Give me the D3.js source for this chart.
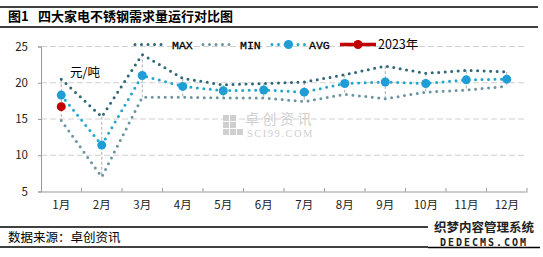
<!DOCTYPE html>
<html><head><meta charset="utf-8">
<script src="https://cdn.jsdelivr.net/npm/d3@7/dist/d3.min.js"></script>
<style>body{margin:0;background:#fff}svg{display:block}</style>
</head><body><svg id="c" width="543" height="257"></svg>
<script>
const months = ["1月","2月","3月","4月","5月","6月","7月","8月","9月","10月","11月","12月"];
const maxVals = [20.5,15.3,23.9,20.6,19.7,19.9,20.1,21.1,22.3,21.3,21.7,21.5];
const minVals = [14.8,7.0,18.0,18.0,17.9,17.9,17.4,18.4,17.8,18.7,19.0,19.5];
const avgVals = [18.3,11.4,21.0,19.5,18.9,19.0,18.7,19.9,20.1,19.9,20.4,20.5];
const y2023 = [16.7];
const yTicks = [5,10,15,20,25];
const seriesNames = ["MAX","MIN","AVG","2023年"];

const svg = d3.select("#c");
const font = "'Noto Sans CJK SC','Noto Sans',sans-serif";
const x = d3.scaleBand().domain(months).range([41,527]);
const y = d3.scaleLinear().domain([5,25]).range([191.5,46.5]);
const cx = m => x(m)+x.bandwidth()/2;

// title bars
svg.append("line").attr("x1",0).attr("x2",538).attr("y1",7).attr("y2",7).attr("stroke","#000").attr("stroke-width",1.3);
svg.append("line").attr("x1",0).attr("x2",538).attr("y1",27).attr("y2",27).attr("stroke","#000").attr("stroke-width",1.3);
svg.append("text").attr("x",8).attr("y",21).attr("font-family",font).attr("font-size",13).attr("font-weight","bold").text("图1");
svg.append("text").attr("x",38).attr("y",21).attr("font-family",font).attr("font-size",13).attr("font-weight","bold").text("四大家电不锈钢需求量运行对比图");
svg.append("line").attr("x1",0).attr("x2",540).attr("y1",227).attr("y2",227).attr("stroke","#000").attr("stroke-width",1.3);
svg.append("line").attr("x1",0).attr("x2",540).attr("y1",247).attr("y2",247).attr("stroke","#000").attr("stroke-width",1.3);
svg.append("text").attr("x",8).attr("y",242).attr("font-family",font).attr("font-size",12.5).text("数据来源：卓创资讯");

// grid
svg.append("g").selectAll("line").data(yTicks.slice(1)).join("line")
  .attr("x1",41).attr("x2",527).attr("y1",d=>y(d)).attr("y2",d=>y(d))
  .attr("stroke","#d0d0d0").attr("stroke-width",1).attr("stroke-dasharray","6,3");

// watermark
const wm = svg.append("g").attr("fill","#cfcfcf");
[[0,0],[7,0],[0,7],[7,7],[0,14],[7,14],[14,14]].forEach(p=>wm.append("rect").attr("x",223+p[0]).attr("y",115+p[1]).attr("width",6).attr("height",6));
wm.append("text").attr("x",245).attr("y",123.5).attr("font-family",font).attr("font-size",14).attr("letter-spacing",3.5).text("卓创资讯");
wm.append("text").attr("x",247).attr("y",137).attr("font-family","'Liberation Serif',serif").attr("font-size",10.5).attr("letter-spacing",1.5).text("SCI99.COM");

// axes
const yAxis = svg.append("g").attr("transform","translate(41,0)")
  .call(d3.axisLeft(y).tickValues(yTicks).tickSize(3).tickPadding(10));
yAxis.select(".domain").attr("stroke","#999");
yAxis.selectAll(".tick line").attr("stroke","#999");
yAxis.selectAll("text").attr("font-family",font).attr("font-size",11.5).attr("fill","#222");

const xAxis = svg.append("g").attr("transform","translate(0,191.5)")
  .call(d3.axisBottom(x).tickSize(0).tickPadding(9));
xAxis.select(".domain").attr("stroke","#999");
xAxis.selectAll("text").attr("font-family",font).attr("font-size",11.5).attr("fill","#222");
svg.append("g").selectAll("line").data(months.slice(1).concat(["end"])).join("line")
  .attr("x1",(d,i)=>41+x.step()*(i+1)).attr("x2",(d,i)=>41+x.step()*(i+1))
  .attr("y1",188).attr("y2",191.5).attr("stroke","#999");

// high-low lines
svg.append("g").selectAll("line").data(months).join("line")
  .attr("x1",cx).attr("x2",cx).attr("y1",(d,i)=>y(maxVals[i])).attr("y2",(d,i)=>y(minVals[i]))
  .attr("stroke","#999").attr("stroke-width",0.8).attr("stroke-dasharray","3,2");

const line = d3.line().x((d,i)=>cx(months[i])).y(d=>y(d));
function dotted(vals,color){
  svg.append("path").attr("d",line(vals)).attr("fill","none").attr("stroke",color)
    .attr("stroke-width",3).attr("stroke-linecap","round").attr("stroke-dasharray","0,6.5");
}
dotted(minVals,"#6b95a0");
dotted(maxVals,"#2e6878");
dotted(avgVals,"#1fa8cc");
svg.append("g").selectAll("circle").data(avgVals).join("circle")
  .attr("cx",(d,i)=>cx(months[i])).attr("cy",d=>y(d)).attr("r",4.5).attr("fill","#1f9ed6");
svg.append("g").selectAll("circle").data(y2023).join("circle")
  .attr("cx",(d,i)=>cx(months[i])).attr("cy",d=>y(d)).attr("r",4.5).attr("fill","#c00000");

// unit
svg.append("text").attr("x",70).attr("y",77).attr("font-family",font).attr("font-size",12.5).text("元/吨");

// legend
const lg = svg.append("g");
const legY = 44.5;
const items = [
  {name:seriesNames[0],x1:135,x2:167,color:"#2e6878",type:"dot",tx:172},
  {name:seriesNames[1],x1:203,x2:235,color:"#6b95a0",type:"dot",tx:240},
  {name:seriesNames[2],x1:272,x2:305,color:"#1fa8cc",type:"dotm",mc:"#1f9ed6",tx:309},
  {name:seriesNames[3],x1:340,x2:376,color:"#c00000",type:"solid",mc:"#c00000",tx:378}
];
items.forEach(it=>{
  const l = lg.append("line").attr("x1",it.x1).attr("x2",it.x2).attr("y1",legY).attr("y2",legY).attr("stroke",it.color);
  if(it.type==="solid") l.attr("stroke-width",3.5);
  else l.attr("stroke-width",3).attr("stroke-linecap","round").attr("stroke-dasharray","0,6.5");
  if(it.mc) lg.append("circle").attr("cx",(it.x1+it.x2)/2).attr("cy",legY).attr("r",4.5).attr("fill",it.mc);
  const t = lg.append("text").attr("x",it.tx).attr("y",legY+4).text(it.name).attr("fill","#000");
  if(it.type==="solid") t.attr("font-family",font).attr("font-size",12.5);
  else t.attr("font-family","'Liberation Mono',monospace").attr("font-size",11.5).attr("stroke","#000").attr("stroke-width",0.3);
});

// site watermark
const dw = svg.append("g");
dw.append("rect").attr("x",428).attr("y",220).attr("width",112).attr("height",28).attr("fill","#fff");
dw.append("text").attr("x",484).attr("y",232).attr("text-anchor","middle").attr("font-family",font).attr("font-size",12.5).attr("font-weight","bold")
  .attr("fill","#222").text("织梦内容管理系统");
dw.append("text").attr("x",484).attr("y",246).attr("text-anchor","middle").attr("font-family","'DejaVu Sans Mono',monospace").attr("font-size",10).attr("font-weight","bold")
  .attr("letter-spacing",2).attr("fill","#222").text("DEDECMS.COM");
dw.append("line").attr("x1",428).attr("x2",540).attr("y1",247.5).attr("y2",247.5).attr("stroke","#000").attr("stroke-width",1.3);
</script></body></html>
